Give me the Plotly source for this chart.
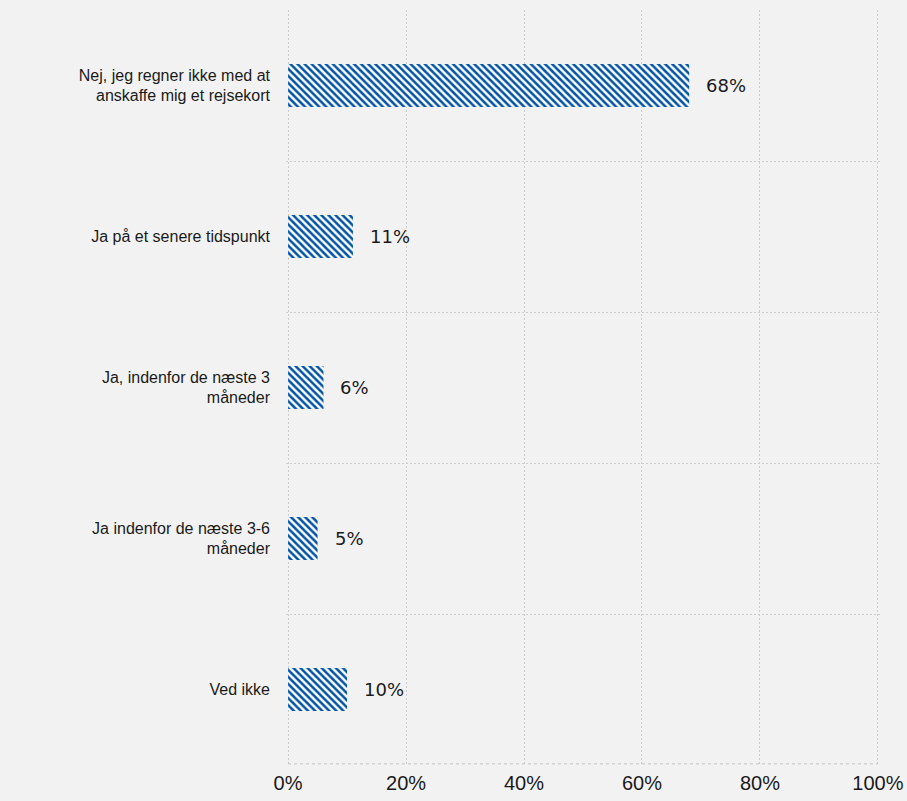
import plotly.graph_objects as go

categories = [
    "Nej, jeg regner ikke med at<br>anskaffe mig et rejsekort",
    "Ja på et senere tidspunkt",
    "Ja, indenfor de næste 3<br>måneder",
    "Ja indenfor de næste 3-6<br>måneder",
    "Ved ikke",
]
values = [68, 11, 6, 5, 10]
value_labels = ["68%", "11%", "6%", "5%", "10%"]
x_ticks = [0, 20, 40, 60, 80, 100]
x_tick_labels = ["0%", "20%", "40%", "60%", "80%", "100%"]

BG = "#f2f2f2"
GRID = "#cccccc"

fig = go.Figure()
fig.add_trace(go.Bar(
    y=categories,
    x=values,
    orientation="h",
    width=0.285,
    marker=dict(
        color="white",
        line=dict(width=0),
        pattern=dict(shape="\\", fgcolor="#0052a3", bgcolor="white",
                     fgopacity=1, size=5, solidity=0.5),
    ),
    hoverinfo="skip",
))

for c, v, t in zip(categories, values, value_labels):
    fig.add_annotation(
        x=v, y=c, text=t, showarrow=False, xanchor="left", xshift=15,
        font=dict(family="DejaVu Sans", size=18, color="#1a1a1a"),
    )

# bottom border of the plot area (dotted, like the gridlines)
fig.add_shape(type="line", xref="paper", yref="paper",
              x0=0.0034, x1=0.9966, y0=0.0015, y1=0.0015,
              line=dict(color="#c4c4c4", width=1, dash="dot"), layer="above")

fig.update_layout(
    width=907, height=801,
    paper_bgcolor=BG, plot_bgcolor=BG,
    margin=dict(l=286, r=27, t=10, b=36, autoexpand=False),
    showlegend=False,
    bargap=0.7,
    xaxis=dict(
        range=[-0.35, 100.35], tickvals=x_ticks, ticktext=x_tick_labels,
        showgrid=True, gridcolor=GRID, griddash="2px,2px", gridwidth=1,
        zeroline=False, showline=False, automargin=False,
        tickfont=dict(family="Liberation Sans, Arial", size=20, color="#1a1a1a"),
        ticks="", ticklabelstandoff=4,
    ),
    yaxis=dict(
        type="category", range=[4.5, -0.5], tickson="boundaries",
        showgrid=True, gridcolor=GRID, griddash="2px,2px", gridwidth=1,
        zeroline=False, showline=False, ticks="", automargin=False,
        tickfont=dict(family="Liberation Sans, Arial", size=16, color="#1a1a1a"),
        ticklabelstandoff=15,
    ),
)

fig.write_html("out.html", config={"displayModeBar": False},
               post_script="document.body.style.margin='0';")
